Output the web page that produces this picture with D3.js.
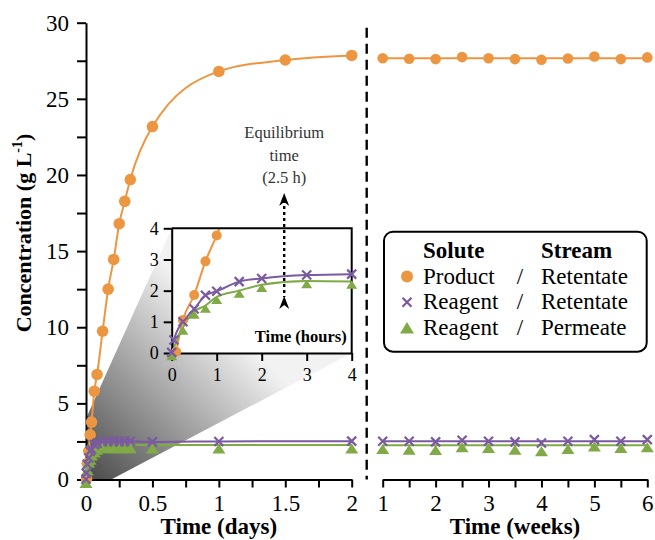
<!DOCTYPE html>
<html>
<head>
<meta charset="utf-8">
<script src="https://cdn.jsdelivr.net/npm/d3@7"></script>
<style>
body { margin: 0; background: #fff; }
svg, svg text { font-family: "Liberation Serif", "DejaVu Serif", serif; }
.axis path, .axis line { stroke: #000; stroke-width: 2; }
.axis text { fill: #000; }
</style>
</head>
<body>
<svg id="chart" width="655" height="540" font-family="Liberation Serif, DejaVu Serif, serif"></svg>
<script>
// sampling times during the first two days (hours)
var productHours = [0.1, 0.25, 0.5, 0.75, 1, 1.5, 2, 3, 4, 5, 6, 7, 8, 12, 24, 36, 48];
var productConc  = [0.04, 1.06, 1.86, 2.94, 3.77, 5.8, 6.9, 9.74, 12.5, 14.45, 16.8, 18.27, 19.7, 23.18, 26.8, 27.55, 27.85];

var retentateHours = [0, 0.05, 0.25, 0.5, 0.75, 1, 1.5, 2, 3, 4, 5, 6, 7, 8, 12, 24, 48];
var retentateConc  = [0.02, 0.42, 1.0, 1.41, 1.85, 1.98, 2.29, 2.39, 2.5, 2.53, 2.52, 2.5, 2.52, 2.51, 2.47, 2.5, 2.52];

var permeateHours = [0, 0.25, 0.5, 0.75, 1, 1.5, 2, 3, 4, 5, 6, 7, 8, 12, 24, 48];
var permeateConc  = [0, 0.82, 1.33, 1.52, 1.8, 2.0, 2.19, 2.31, 2.29, 2.28, 2.28, 2.28, 2.28, 2.26, 2.27, 2.27];

// long run (weeks)
var weeks = [1, 1.5, 2, 2.5, 3, 3.5, 4, 4.5, 5, 5.5, 6];
var productWeekly   = [27.67, 27.63, 27.61, 27.74, 27.67, 27.61, 27.57, 27.65, 27.78, 27.61, 27.72];
var retentateWeekly = [2.51, 2.51, 2.47, 2.58, 2.51, 2.47, 2.40, 2.51, 2.62, 2.51, 2.62];
var permeateWeekly  = [2.23, 2.19, 2.17, 2.34, 2.30, 2.19, 2.08, 2.23, 2.39, 2.30, 2.34];

var yTicks = d3.range(0, 30.01, 2.5);
var dayTicks = d3.range(0, 2.01, 0.25);
var weekTicks = d3.range(1, 6.01, 0.5);
var hourTicks = [0, 1, 2, 3, 4];
var insetYTicks = [0, 1, 2, 3, 4];
var equilibriumHours = 2.5;

var legendSolute = ["Product", "Reagent", "Reagent"];
var legendStream = ["Retentate", "Retentate", "Permeate"];

var orange = "#ED9641", purple = "#7A5AA0", green = "#80AA46";
var serif = "Liberation Serif, DejaVu Serif, serif";

function zip(xs, ys) {
	var out = [];
	for (var i = 0; i < xs.length; i++) out.push([xs[i], ys[i]]);
	return out;
}

var svg = d3.select("#chart");

var yScale = d3.scaleLinear().domain([0, 30]).range([479.5, 22.7]);
var xDays = d3.scaleLinear().domain([0, 2]).range([86, 351.7]);
var xWeeks = d3.scaleLinear().domain([1, 6]).range([382.7, 647.3]);
var xHours = d3.scaleLinear().domain([0, 4]).range([171.7, 351.7]);
var yInset = d3.scaleLinear().domain([0, 4]).range([353, 228.3]);

// markers
var crossPath = "M-4.5,-4.5L4.5,4.5M-4.5,4.5L4.5,-4.5";
var triPath = "M0,-1.5L6.5,8.5L-6.5,8.5Z";

function drawCircles(g, pts, sx, sy, r) {
	g.selectAll(null).data(pts).enter().append("circle")
		.attr("cx", function(d) { return sx(d[0]); })
		.attr("cy", function(d) { return sy(d[1]); })
		.attr("r", r)
		.attr("fill", orange);
}
function drawCrosses(g, pts, sx, sy, k) {
	g.selectAll(null).data(pts).enter().append("path")
		.attr("d", crossPath)
		.attr("transform", function(d) { return "translate(" + sx(d[0]) + "," + sy(d[1]) + ") scale(" + k + ")"; })
		.attr("stroke", purple).attr("stroke-width", 2.2 / k).attr("fill", "none");
}
function drawTriangles(g, pts, sx, sy, k) {
	g.selectAll(null).data(pts).enter().append("path")
		.attr("d", triPath)
		.attr("transform", function(d) { return "translate(" + sx(d[0]) + "," + sy(d[1]) + ") scale(" + k + ")"; })
		.attr("fill", green);
}
function drawLine(g, pts, sx, sy, color, curve) {
	g.append("path")
		.datum(pts)
		.attr("fill", "none")
		.attr("stroke", color)
		.attr("stroke-width", 2)
		.attr("d", d3.line().x(function(d) { return sx(d[0]); }).y(function(d) { return sy(d[1]); }).curve(curve));
}
function styleAxis(g, size) {
	g.attr("font-family", serif);
	g.selectAll("text").attr("font-size", size).attr("font-family", serif);
}

// ----- gray zoom wedge -----
var defs = svg.append("defs");
var grad = defs.append("linearGradient").attr("id", "wedge")
	.attr("gradientUnits", "userSpaceOnUse")
	.attr("x1", 86).attr("y1", 479).attr("x2", 232).attr("y2", 330);
grad.append("stop").attr("offset", 0).attr("stop-color", "#4a4a4a");
grad.append("stop").attr("offset", 1).attr("stop-color", "#f2f2f2");

var wedge = [
	[xDays(0), yScale(4)],
	[xHours(0), yInset(4)],
	[xHours(4), yInset(0)],
	[xDays(0.19), yScale(0)],
	[xDays(0), yScale(0)]
];
svg.append("polygon")
	.attr("points", wedge.map(function(p) { return p.join(","); }).join(" "))
	.attr("fill", "url(#wedge)");

// ----- main axes -----
svg.append("g").attr("class", "axis")
	.attr("transform", "translate(" + xDays(0) + ",0)")
	.call(d3.axisLeft(yScale).tickValues(yTicks).tickSize(9).tickSizeOuter(0).tickPadding(8)
		.tickFormat(function(d) { return d % 5 === 0 ? d : ""; }))
	.call(styleAxis, 23);

svg.append("g").attr("class", "axis")
	.attr("transform", "translate(0," + yScale(0) + ")")
	.call(d3.axisBottom(xDays).tickValues(dayTicks).tickSize(8).tickSizeOuter(0).tickPadding(7)
		.tickFormat(function(d) { return (d * 2) % 1 === 0 ? d : ""; }))
	.call(styleAxis, 23);

svg.append("g").attr("class", "axis")
	.attr("transform", "translate(0," + yScale(0) + ")")
	.call(d3.axisBottom(xWeeks).tickValues(weekTicks).tickSize(8).tickSizeOuter(0).tickPadding(7)
		.tickFormat(function(d) { return d % 1 === 0 ? d : ""; }))
	.call(styleAxis, 23);

// break between the two time scales
svg.append("line")
	.attr("x1", 366.7).attr("x2", 366.7)
	.attr("y1", yScale(30) + 5).attr("y2", yScale(0))
	.attr("stroke", "#000").attr("stroke-width", 2.4)
	.attr("stroke-dasharray", "10,6");

// axis titles
svg.append("text").attr("x", (xDays(0) + xDays(2)) / 2).attr("y", 534)
	.attr("text-anchor", "middle").attr("font-weight", "bold").attr("font-size", 23)
	.attr("font-family", serif).text("Time (days)");
svg.append("text").attr("x", (xWeeks(1) + xWeeks(6)) / 2).attr("y", 534)
	.attr("text-anchor", "middle").attr("font-weight", "bold").attr("font-size", 23)
	.attr("font-family", serif).text("Time (weeks)");
var yt = svg.append("text")
	.attr("transform", "translate(31,233) rotate(-90)")
	.attr("text-anchor", "middle").attr("font-weight", "bold").attr("font-size", 22)
	.attr("font-family", serif);
yt.append("tspan").text("Concentration (g L");
yt.append("tspan").attr("font-size", 14).attr("dy", -9).text("-1");
yt.append("tspan").attr("dy", 9).text(")");

// ----- main data (days) -----
var toDays = function(h) { return h / 24; };
var main = svg.append("g");
var prodDays = zip(productHours.map(toDays), productConc);
var retDays = zip(retentateHours.map(toDays), retentateConc);
var permDays = zip(permeateHours.map(toDays), permeateConc);

drawLine(main, prodDays, xDays, yScale, orange, d3.curveMonotoneX);
drawLine(main, permDays, xDays, yScale, green, d3.curveMonotoneX);
drawLine(main, retDays, xDays, yScale, purple, d3.curveMonotoneX);
drawCircles(main, prodDays, xDays, yScale, 5.8);
drawTriangles(main, permDays, xDays, yScale, 1);
drawCrosses(main, retDays, xDays, yScale, 1);

// ----- weeks panel: flat mean lines -----
var weekly = [[productWeekly, orange], [permeateWeekly, green], [retentateWeekly, purple]];
weekly.forEach(function(s) {
	var m = d3.mean(s[0]);
	drawLine(main, [[weeks[0], m], [weeks[weeks.length - 1], m]], xWeeks, yScale, s[1], d3.curveLinear);
});
drawCircles(main, zip(weeks, productWeekly), xWeeks, yScale, 5.3);
drawTriangles(main, zip(weeks, permeateWeekly), xWeeks, yScale, 1);
drawCrosses(main, zip(weeks, retentateWeekly), xWeeks, yScale, 1);

// ----- inset (hours) -----
var inset = svg.append("g");
inset.append("rect")
	.attr("x", xHours(0)).attr("y", yInset(4))
	.attr("width", xHours(4) - xHours(0)).attr("height", yInset(0) - yInset(4))
	.attr("fill", "#fff");
defs.append("clipPath").attr("id", "insetClip").append("rect")
	.attr("x", xHours(0)).attr("y", yInset(4))
	.attr("width", xHours(4) - xHours(0)).attr("height", yInset(0) - yInset(4));

var inRange = function(d) { return d[0] <= 4 && d[1] <= 4; };
var prodH = zip(productHours, productConc).filter(function(d) { return d[0] <= 1.5; });
var retH = zip(retentateHours, retentateConc).filter(function(d) { return d[0] <= 4; });
var permH = zip(permeateHours, permeateConc).filter(function(d) { return d[0] <= 4; });

var insetLines = inset.append("g").attr("clip-path", "url(#insetClip)");
drawLine(insetLines, prodH, xHours, yInset, orange, d3.curveMonotoneX);
drawLine(insetLines, permH, xHours, yInset, green, d3.curveMonotoneX);
drawLine(insetLines, retH, xHours, yInset, purple, d3.curveMonotoneX);

inset.append("g").attr("class", "axis")
	.attr("transform", "translate(" + xHours(0) + ",0)")
	.call(d3.axisLeft(yInset).tickValues(insetYTicks).tickSize(8).tickSizeOuter(0).tickPadding(5)
		.tickFormat(d3.format("d")))
	.call(styleAxis, 18);
inset.append("g").attr("class", "axis")
	.attr("transform", "translate(0," + yInset(0) + ")")
	.call(d3.axisBottom(xHours).tickValues(hourTicks).tickSize(8).tickSizeOuter(0).tickPadding(7)
		.tickFormat(d3.format("d")))
	.call(styleAxis, 18);
inset.append("path")
	.attr("d", "M" + xHours(0) + "," + yInset(4) + "H" + xHours(4) + "V" + yInset(0))
	.attr("fill", "none").attr("stroke", "#000").attr("stroke-width", 2);

drawCircles(inset, prodH.filter(inRange), xHours, yInset, 5);
drawTriangles(inset, permH.filter(inRange), xHours, yInset, 0.85);
drawCrosses(inset, retH.filter(inRange), xHours, yInset, 1);

inset.append("text").attr("x", xHours(4) - 5).attr("y", yInset(0) - 11)
	.attr("text-anchor", "end").attr("font-weight", "bold").attr("font-size", 16.5)
	.attr("font-family", serif).text("Time (hours)");

// ----- equilibrium annotation -----
var ex = xHours(equilibriumHours);
var arrowHead = "M0,0L-5,13L0,9L5,13Z";
svg.append("line")
	.attr("x1", ex).attr("x2", ex).attr("y1", 200).attr("y2", 297)
	.attr("stroke", "#000").attr("stroke-width", 2.4).attr("stroke-dasharray", "3,3");
svg.append("path").attr("d", arrowHead).attr("transform", "translate(" + ex + ",193)").attr("fill", "#000");
svg.append("path").attr("d", arrowHead).attr("transform", "translate(" + ex + ",296)").attr("fill", "#000");
var eq = svg.append("text").attr("text-anchor", "middle").attr("font-size", 16.5).attr("fill", "#333")
	.attr("font-family", serif);
eq.append("tspan").attr("x", ex).attr("y", 138).text("Equilibrium");
eq.append("tspan").attr("x", ex).attr("y", 161).text("time");
eq.append("tspan").attr("x", ex).attr("y", 183).text("(" + equilibriumHours + " h)");

// ----- legend -----
var lg = svg.append("g").attr("font-family", serif);
lg.append("rect").attr("x", 384).attr("y", 231.7).attr("width", 262.7).attr("height", 120)
	.attr("rx", 9).attr("fill", "#fff").attr("stroke", "#000").attr("stroke-width", 2);
lg.append("text").attr("x", 423).attr("y", 258).attr("font-size", 23).attr("font-weight", "bold").text("Solute");
lg.append("text").attr("x", 541).attr("y", 258).attr("font-size", 23).attr("font-weight", "bold").text("Stream");
legendSolute.forEach(function(s, i) {
	var by = 283.5 + i * 25.8;
	lg.append("text").attr("x", 423).attr("y", by).attr("font-size", 23).text(s);
	lg.append("text").attr("x", 520).attr("y", by).attr("font-size", 23).attr("text-anchor", "middle").text("/");
	lg.append("text").attr("x", 541).attr("y", by).attr("font-size", 23).text(legendStream[i]);
	var my = by - 7;
	if (i === 0) lg.append("circle").attr("cx", 407).attr("cy", my).attr("r", 6).attr("fill", orange);
	if (i === 1) lg.append("path").attr("d", crossPath).attr("transform", "translate(407," + my + ")")
		.attr("stroke", purple).attr("stroke-width", 2.2).attr("fill", "none");
	if (i === 2) lg.append("path").attr("d", "M0,-6L7,5.5L-7,5.5Z").attr("transform", "translate(407," + my + ")")
		.attr("fill", green);
});
</script>
</body>
</html>
